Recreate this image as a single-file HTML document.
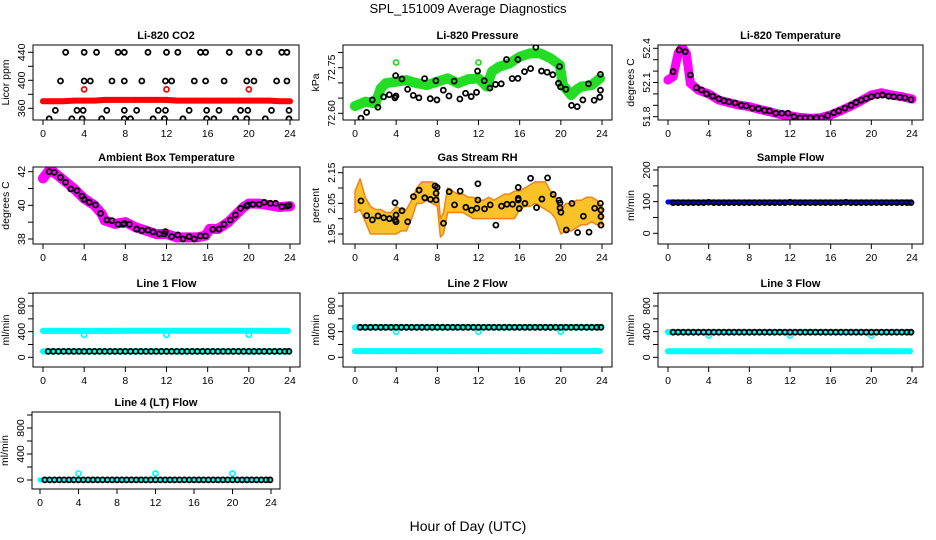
<!DOCTYPE html>
<html><head><meta charset="utf-8"><title>SPL_151009 Average Diagnostics</title>
<style>
html,body{margin:0;padding:0;background:#fff;}
svg{display:block;font-family:"Liberation Sans",Arial,sans-serif;}
</style></head>
<body>
<svg id="chart" width="936" height="540" viewBox="0 0 936 540" xmlns="http://www.w3.org/2000/svg">
<rect x="0" y="0" width="936" height="540" fill="#fff"/>
<text x="468" y="13" text-anchor="middle" font-size="13">SPL_151009  Average Diagnostics</text>
<text x="468" y="531" text-anchor="middle" font-size="14">Hour of Day (UTC)</text>
</svg>
<script>
// ---------- DATA ----------
const xTicks=[0,4,8,12,16,20,24];
// CO2
const co2BlackHours=[2.2,4,5.2,7.3,7.9,10.2,12,13.1,15.3,15.8,18.1,20,21,23.2,23.7,1.7,4,4.6,6.7,7.9,9.6,11.9,12.5,14.7,15.8,17.6,19.8,20.5,22.7,23.7,1.2,3.3,3.9,6.2,7.9,9.1,11.2,11.9,14.2,15.9,17.1,19.2,19.9,22.2,23.9,0.6,2.8,3.8,5.7,7.9,8.5,10.7,11.8,13.6,15.9,16.6,18.7,19.8,21.6,23.9];
const co2BlackValues=[440,440,440,440,440,440,440,440,440,440,440,440,440,440,440,399,399,399,399,399,399,399,399,399,399,399,399,399,399,399,357,357,357,357,357,357,357,357,357,357,357,357,357,357,357,345,345,345,345,345,345,345,345,345,345,345,345,345,345,345];
const co2RedHours=[0,1,2,3,4,5,6,7,8,9,10,11,12,13,14,15,16,17,18,19,20,21,22,23,24];
const co2RedValues=[370,370,370,371,371,371,372,372,372,372,372,372,372,371,371,371,371,371,371,371,371,371,371,370,370];
const co2OutHours=[4,12,20];
const co2OutValues=[387,387,387];
// Pressure
const presBlackHours=[0.58,1.13,1.68,2.23,2.78,3.33,3.88,3.98,3.95,4.56,5.11,5.66,6.21,6.76,7.31,7.86,7.96,8.58,9.13,9.64,10.19,10.74,11.29,11.81,11.91,12.56,13.11,13.66,14.21,14.72,15.27,15.83,15.83,16.47,17.06,17.57,18.12,18.67,19.22,19.77,19.87,19.97,20.49,21.04,21.59,22.14,22.69,23.24,23.79,23.85,23.85];
const presBlackValues=[72.584,72.603,72.644,72.620,72.654,72.661,72.651,72.657,72.724,72.713,72.679,72.659,72.651,72.714,72.648,72.707,72.644,72.676,72.657,72.706,72.647,72.666,72.655,72.669,72.739,72.707,72.683,72.695,72.697,72.777,72.714,72.715,72.777,72.737,72.747,72.817,72.739,72.735,72.727,72.699,72.754,72.687,72.679,72.626,72.622,72.644,72.697,72.643,72.653,72.728,72.676];
const presGreenHours=[0,1,2,2.5,3,4,5,6,7,8,9,10,11,12,12.8,13.3,14,15,16,17,18,19,19.9,20.2,21,21.5,22,23,23.8];
const presGreenValues=[72.624,72.638,72.633,72.682,72.699,72.704,72.709,72.699,72.693,72.704,72.715,72.699,72.712,72.715,72.688,72.737,72.753,72.764,72.786,72.797,72.797,72.781,72.759,72.693,72.660,72.677,72.688,72.693,72.715];
const presOutHours=[4,12];
const presOutValues=[72.767,72.767];
// Li-820 temperature
const tempBandHours=[0,0.5,1,1.4,1.8,2.2,3,4,5,6,7,8,9,10,11,12,13,14,15,16,17,18,19,20,21,22,23,24];
const tempBandValues=[52.122,52.151,52.356,52.41,52.356,52.093,52.034,52.0,51.946,51.923,51.902,51.888,51.864,51.844,51.82,51.809,51.794,51.785,51.791,51.815,51.853,51.894,51.94,51.99,52.01,51.99,51.976,51.955];
const tempBlackHours=[0.5,1.1,1.7,2.2,2.8,3.3,3.8,4.4,5.0,5.5,6.0,6.6,7.2,7.7,8.3,8.9,9.5,10.0,10.6,11.2,11.8,12.4,13.0,13.5,14.0,14.6,15.1,15.7,16.3,16.8,17.4,18.0,18.5,19.0,19.5,20.0,20.6,21.1,21.7,22.2,22.8,23.3,23.9];
const tempBlackValues=[52.195,52.385,52.37,52.166,52.054,52.034,52.0,51.98,51.957,51.94,51.93,51.92,51.9,51.895,51.875,51.87,51.855,51.85,51.83,51.83,51.83,51.80,51.79,51.79,51.79,51.79,51.79,51.81,51.835,51.85,51.875,51.9,51.925,51.945,51.96,51.975,51.985,51.99,51.98,51.975,51.97,51.965,51.95];
// Ambient box temperature
const ambBandHours=[0,0.5,1,2,3,4,5,5.7,6,7,8,9,10,11,12,13,14,15,15.8,16.2,17,18,19,19.5,20,21,22,23,24];
const ambBandValues=[41.6,42.0,42.0,41.5,41.0,40.4,40.0,39.5,39.1,38.9,39.0,38.7,38.5,38.3,38.3,38.1,38.1,38.1,38.2,38.6,38.6,39.0,39.6,39.9,40.1,40.1,40.0,39.9,39.95];
const ambBlackHours=[0.6,1.1,1.7,2.2,2.7,3.3,3.8,4.0,4.5,5.1,5.6,6.2,6.7,7.3,7.8,7.9,8.4,9.1,9.6,10.2,10.7,11.3,11.8,11.9,12.5,13.1,13.6,14.2,14.7,15.3,15.8,16.5,17.1,17.6,18.2,18.7,19.2,19.8,19.9,20.4,21.0,21.5,22.1,22.6,23.2,23.7,23.9];
const ambBlackValues=[42.0,41.96,41.66,41.37,40.97,40.87,40.55,40.36,40.18,40.02,39.52,39.13,39.09,38.87,38.87,38.93,38.87,38.59,38.5,38.53,38.42,38.3,38.3,38.44,38.14,38.24,38.0,38.14,38.0,38.18,38.18,38.57,38.59,38.87,39.13,39.43,39.82,39.96,40.02,40.06,40.06,40.18,40.12,40.12,39.92,39.96,40.0];
// Gas stream RH
const rhBandHours=[0,0.5,1,1.5,2,2.5,3,3.5,4,4.5,5,5.5,6,6.5,7,7.5,8,8.3,8.6,9,9.5,10,10.5,11,11.5,12,12.5,13,13.5,14,14.5,15,15.5,16,16.5,17,17.5,18,18.5,19,19.5,20,20.5,21,21.5,22,22.5,23,23.5,24];
const rhBandLow=[2.02,2.03,1.99,1.95,1.95,1.95,1.95,1.95,1.95,1.96,1.96,2.00,2.05,2.05,2.06,2.05,2.04,1.94,1.95,2.02,2.02,2.02,2.02,2.01,2.00,2.00,2.00,2.00,2.00,2.00,2.00,2.00,2.00,2.03,2.04,2.04,2.05,2.04,2.03,2.02,2.00,1.95,1.96,1.96,1.97,1.98,1.98,1.99,1.98,1.98];
const rhBandHigh=[2.09,2.13,2.07,2.04,2.03,2.03,2.02,2.02,2.04,2.03,2.03,2.06,2.10,2.12,2.12,2.12,2.11,2.00,2.02,2.10,2.09,2.08,2.08,2.07,2.07,2.06,2.06,2.07,2.06,2.07,2.08,2.08,2.09,2.09,2.10,2.11,2.12,2.12,2.12,2.09,2.07,2.03,2.05,2.05,2.06,2.06,2.07,2.07,2.06,2.04];
const rhBlackHours=[0.58,1.14,1.69,2.24,2.79,3.34,3.89,3.89,3.99,3.99,4.57,5.12,5.68,6.23,6.78,7.33,7.78,7.88,7.88,7.98,8.6,9.15,9.67,10.22,10.77,11.32,11.84,11.94,11.94,12.59,13.14,13.69,14.24,14.76,15.31,15.86,15.86,15.86,15.96,16.51,17.06,17.64,18.16,18.71,19.26,19.82,19.92,19.92,20.01,20.53,21.08,21.63,22.19,22.74,23.29,23.84,23.9,23.9,23.9];
const rhBlackValues=[2.058,2.010,1.996,2.009,2.003,2.0,1.996,2.052,1.990,2.012,2.026,1.990,2.072,2.093,2.068,2.063,2.107,2.083,2.061,2.102,1.985,2.088,2.045,2.090,2.037,2.028,2.034,2.114,2.061,2.032,2.045,1.979,2.041,2.047,2.047,2.102,2.066,2.061,2.033,2.050,2.132,2.036,2.064,2.133,2.079,2.060,2.052,2.035,2.021,1.963,2.050,1.955,2.008,1.956,2.034,2.050,2.028,2.007,1.979];
// Flow panels
const flowHours=[0.5,1,1.5,2,2.5,3,3.5,4,4.5,5,5.5,6,6.5,7,7.5,8,8.5,9,9.5,10,10.5,11,11.5,12,12.5,13,13.5,14,14.5,15,15.5,16,16.5,17,17.5,18,18.5,19,19.5,20,20.5,21,21.5,22,22.5,23,23.5,23.9];
const bandHours=[0,1,2,3,4,5,6,7,8,9,10,11,12,13,14,15,16,17,18,19,20,21,22,23,23.8];
const outHours=[4,12,20];
const sampleBlack=[97,97,97,97,97,97,97,98,97,97,97,97,97,97,97,97,97,97,97,97,97,97,97,98,97,97,97,97,97,97,97,97,97,97,98,97,97,97,97,97,97,97,97,97,97,97,97,97];
const sampleBlue=[99,99,99,99,99,99,99,99,99,99,99,99,99,99,99,99,99,99,99,99,99,99,99,99,99];
const line1Black=[92,92,92,92,92,92,92,92,92,92,92,92,92,92,92,92,92,92,92,92,92,92,92,92,92,92,92,92,92,92,92,92,92,92,92,92,92,92,92,92,92,92,92,92,92,92,92,92];
const line1CyanHigh=[412,412,412,412,412,412,412,412,414,414,414,414,414,414,414,414,414,414,414,414,414,414,412,412,412];
const line1CyanLow=[92,92,92,92,92,92,92,92,92,92,92,92,92,92,92,92,92,92,92,92,92,92,92,92,92];
const line1Out=[350,350,350];
const line2Black=[468,468,468,468,468,468,468,468,468,468,468,468,468,468,468,468,468,468,468,468,468,468,468,468,468,468,468,468,468,468,468,468,468,468,468,468,468,468,468,468,468,468,468,468,468,468,468,468];
const line2CyanHigh=[468,468,468,468,468,468,468,468,468,468,468,468,468,468,468,468,468,468,468,468,468,468,468,468,468];
const line2CyanLow=[96,96,96,96,96,96,96,96,96,96,96,96,96,96,96,96,96,96,96,96,96,96,96,96,96];
const line2Out=[400,400,400];
const line3Black=[392,392,392,392,392,392,392,392,392,392,392,392,392,392,392,392,392,392,392,392,392,392,392,392,392,392,392,392,392,392,392,392,392,392,392,392,392,392,392,392,392,392,392,392,392,392,392,392];
const line3CyanHigh=[395,395,395,395,395,395,395,395,395,395,395,395,395,395,395,395,395,395,395,395,395,395,395,395,395];
const line3CyanLow=[94,94,94,94,94,94,94,94,94,94,94,94,94,94,94,94,94,94,94,94,94,94,94,94,94];
const line3Out=[340,340,340];
const line4Black=[2,2,2,2,2,2,2,2,2,2,2,2,2,2,2,2,2,2,2,2,2,2,2,2,2,2,2,2,2,2,2,2,2,2,2,2,2,2,2,2,2,2,2,2,2,2,2,2];
const line4Cyan=[2,2,2,2,2,2,2,2,2,2,2,2,2,2,2,2,2,2,2,2,2,2,2,2,2];
const line4Out=[100,100,100];

// ---------- RENDER ----------
const NS='http://www.w3.org/2000/svg';
const svg=document.getElementById('chart');
function mk(tag,attrs,parent){const e=document.createElementNS(NS,tag);for(const k in attrs)e.setAttribute(k,attrs[k]);(parent||svg).appendChild(e);return e;}
let clipId=0;

function makePanel(cfg){
  const g=mk('g',{});
  
  
  const [bx0,by0,bx1,by1]=cfg.box;
  const sx=h=>cfg.x0+(cfg.x24-cfg.x0)*h/24;
  const sy=v=>cfg.py1+(v-cfg.v1)*(cfg.py2-cfg.py1)/(cfg.v2-cfg.v1);
  const id='clip'+(clipId++);
  const cp=mk('clipPath',{id:id},g);
  mk('rect',{x:bx0,y:by0,width:bx1-bx0,height:by1-by0},cp);
  const plot=mk('g',{'clip-path':'url(#'+id+')'},g);
  
  
  const t=mk('text',{x:(bx0+bx1)/2,y:by0-6,'text-anchor':'middle','font-size':11,'font-weight':'bold'},g);
  t.textContent=cfg.title;
  
  
  const xa=mk('g',{},g);
  
  
  mk('line',{x1:sx(xTicks[0]),x2:sx(xTicks[xTicks.length-1]),y1:by1,y2:by1,stroke:'#000','stroke-width':1},xa);
  xTicks.forEach(h=>{
    mk('line',{x1:sx(h),x2:sx(h),y1:by1,y2:by1+5,stroke:'#000','stroke-width':1},xa);
    const l=mk('text',{x:sx(h),y:by1+17,'text-anchor':'middle','font-size':10.5},xa);
    l.textContent=h;
    
    
  });
  const ya=mk('g',{},g);
  
  
  cfg.yTicks.forEach(v=>{
    mk('line',{x1:bx0,x2:bx0-5,y1:sy(v),y2:sy(v),stroke:'#000','stroke-width':1},ya);
  });
  cfg.yLabels.forEach(v=>{
    const yy=sy(v), xx=bx0-8;
    const l=mk('text',{x:xx,y:yy,'text-anchor':'middle','font-size':10.5,transform:'rotate(-90 '+xx+' '+yy+')'},ya);
    l.textContent=cfg.fmt?cfg.fmt(v):v;
    
    
  });
  const yc=(by0+by1)/2, yx=bx0-24;
  const yt=mk('text',{x:yx,y:yc,'text-anchor':'middle','font-size':10.5,transform:'rotate(-90 '+yx+' '+yc+')'},g);
  yt.textContent=cfg.ylab;
  
  
  const box=mk('rect',{x:bx0,y:by0,width:bx1-bx0,height:by1-by0,fill:'none',stroke:'#000','stroke-width':1});
  
  
  return {g,plot,sx,sy,box};
}
function band(p,hours,vals,color,w,name){
  const g=mk('g',{},p.plot);
  
  
  const pts=hours.map((h,i)=>p.sx(h)+','+p.sy(vals[i])).join(' ');
  mk('polyline',{points:pts,fill:'none',stroke:color,'stroke-width':w,'stroke-linejoin':'round','stroke-linecap':'round'},g);
  hours.forEach((h,i)=>{
    const c=mk('circle',{cx:p.sx(h),cy:p.sy(vals[i]),r:w/2,fill:color},g);
    
    
  });
}
function points(p,hours,vals,color,name){
  const g=mk('g',{},p.plot);
  
  
  hours.forEach((h,i)=>{
    const c=mk('circle',{cx:p.sx(h),cy:p.sy(vals[i]),r:2.5,fill:'none',stroke:color,'stroke-width':1.8},g);
    
    
  });
}
function area(p,hours,lo,hi,name){
  const top=hours.map((h,i)=>p.sx(h)+','+p.sy(hi[i]));
  const bot=hours.map((h,i)=>p.sx(h)+','+p.sy(lo[i])).reverse();
  const a=mk('polygon',{points:top.concat(bot).join(' '),fill:'#f9c228',stroke:'#f08418','stroke-width':1.5,'stroke-linejoin':'round'},p.plot);
  
  
}

// Row 1
let p=makePanel({name:'co2-panel',title:'Li-820 CO2',box:[33,45,299,120],x0:43,x24:290,v1:360,py1:108.3,v2:440,py2:52.3,yTicks:[360,380,400,420,440],yLabels:[360,400,440],ylab:'Licor ppm'});
band(p,co2RedHours,co2RedValues,'#ff0000',6,'co2-red-series');
points(p,co2OutHours,co2OutValues,'#ff0000','co2-red-outliers');
points(p,co2BlackHours,co2BlackValues,'#000','co2-black-series');

p=makePanel({name:'pressure-panel',title:'Li-820 Pressure',box:[343,45,612,120],x0:355,x24:602,v1:72.60,py1:113.3,v2:72.75,py2:67.7,yTicks:[72.60,72.65,72.70,72.75,72.80],yLabels:[72.60,72.75],fmt:v=>v.toFixed(2),ylab:'kPa'});
band(p,presGreenHours,presGreenValues,'#22dd22',10,'pressure-green-series');
points(p,presOutHours,presOutValues,'#22dd22','pressure-green-outliers');
points(p,presBlackHours,presBlackValues,'#000','pressure-black-series');

p=makePanel({name:'li820-temp-panel',title:'Li-820 Temperature',box:[658,45,923,120],x0:668,x24:912,v1:51.8,py1:116.7,v2:52.4,py2:48.3,yTicks:[51.8,51.9,52.0,52.1,52.2,52.3,52.4],yLabels:[51.8,52.1,52.4],fmt:v=>v.toFixed(1),ylab:'degrees C'});
band(p,tempBandHours,tempBandValues,'#ff00ff',9,'li820-temp-magenta-series');
points(p,tempBlackHours,tempBlackValues,'#000','li820-temp-black-series');

// Row 2
p=makePanel({name:'ambient-temp-panel',title:'Ambient Box Temperature',box:[33,167,300,244],x0:43,x24:290,v1:38,py1:239,v2:42,py2:171.7,yTicks:[38,39,40,41,42],yLabels:[38,40,42],ylab:'degrees C'});
band(p,ambBandHours,ambBandValues,'#ff00ff',10,'ambient-temp-magenta-series');
points(p,ambBlackHours,ambBlackValues,'#000','ambient-temp-black-series');

p=makePanel({name:'rh-panel',title:'Gas Stream RH',box:[343,167,612,244],x0:355,x24:602,v1:1.95,py1:234,v2:2.15,py2:172.7,yTicks:[1.95,2.00,2.05,2.10,2.15],yLabels:[1.95,2.05,2.15],fmt:v=>v.toFixed(2),ylab:'percent'});
area(p,rhBandHours,rhBandLow,rhBandHigh,'rh-orange-series');
points(p,rhBlackHours,rhBlackValues,'#000','rh-black-series');

p=makePanel({name:'sample-flow-panel',title:'Sample Flow',box:[658,167,923,244],x0:668,x24:912,v1:0,py1:233.3,v2:200,py2:170,yTicks:[0,50,100,150,200],yLabels:[0,100,200],ylab:'ml/min'});
band(p,bandHours,sampleBlue,'#0000ff',5,'sample-flow-blue-series');
points(p,flowHours,sampleBlack,'#000','sample-flow-black-series');

// Row 3
const flowTicks=[0,200,400,600,800,1000], flowLabels=[0,400,800];
p=makePanel({name:'line1-flow-panel',title:'Line 1 Flow',box:[33,293,300,367],x0:43,x24:290,v1:0,py1:357.3,v2:800,py2:306,yTicks:flowTicks,yLabels:flowLabels,ylab:'ml/min'});
band(p,bandHours,line1CyanHigh,'#00ffff',6,'line1-cyan-high-series');
band(p,bandHours,line1CyanLow,'#00ffff',6,'line1-cyan-low-series');
points(p,outHours,line1Out,'#00ffff','line1-cyan-outliers');
points(p,flowHours,line1Black,'#000','line1-black-series');

p=makePanel({name:'line2-flow-panel',title:'Line 2 Flow',box:[343,293,612,367],x0:355,x24:602,v1:0,py1:357.3,v2:800,py2:306,yTicks:flowTicks,yLabels:flowLabels,ylab:'ml/min'});
band(p,bandHours,line2CyanHigh,'#00ffff',6,'line2-cyan-high-series');
band(p,bandHours,line2CyanLow,'#00ffff',6,'line2-cyan-low-series');
points(p,outHours,line2Out,'#00ffff','line2-cyan-outliers');
points(p,flowHours,line2Black,'#000','line2-black-series');

p=makePanel({name:'line3-flow-panel',title:'Line 3 Flow',box:[658,293,923,367],x0:668,x24:912,v1:0,py1:357.3,v2:800,py2:306,yTicks:flowTicks,yLabels:flowLabels,ylab:'ml/min'});
band(p,bandHours,line3CyanHigh,'#00ffff',6,'line3-cyan-high-series');
band(p,bandHours,line3CyanLow,'#00ffff',6,'line3-cyan-low-series');
points(p,outHours,line3Out,'#00ffff','line3-cyan-outliers');
points(p,flowHours,line3Black,'#000','line3-black-series');

// Row 4
p=makePanel({name:'line4-flow-panel',title:'Line 4 (LT) Flow',box:[32,412,280,489],x0:40,x24:271,v1:0,py1:480,v2:800,py2:428,yTicks:flowTicks,yLabels:flowLabels,ylab:'ml/min'});
band(p,bandHours,line4Cyan,'#00ffff',5,'line4-cyan-series');
points(p,outHours,line4Out,'#00ffff','line4-cyan-outliers');
points(p,flowHours,line4Black,'#000','line4-black-series');
</script>
</body></html>
